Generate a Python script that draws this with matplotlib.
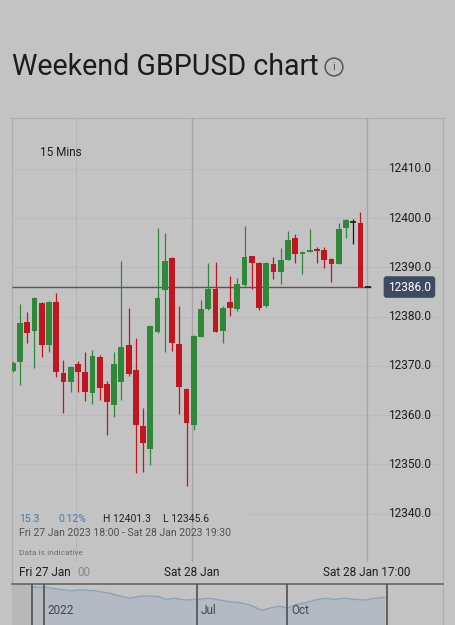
import matplotlib
matplotlib.use('Agg')
import matplotlib.pyplot as plt

# ---- candle data (15 min bars, GBPUSD x10000) ----
opens = [12369.0, 12370.7, 12379.0, 12377.0, 12382.7, 12374.2, 12383.0, 12368.6, 12366.8, 12370.4,
         12368.8, 12364.4, 12371.9, 12366.3, 12362.1, 12366.8, 12374.2, 12369.2, 12357.7, 12353.1,
         12376.9, 12385.3, 12391.8, 12374.4, 12365.3, 12358.0, 12375.9, 12381.5, 12385.7, 12377.1,
         12382.9, 12381.5, 12386.4, 12392.2, 12390.8, 12382.2, 12390.7, 12389.1, 12391.5, 12395.9,
         12392.8, 12393.2, 12393.8, 12393.5, 12391.7, 12390.7, 12397.9, 12399.2, 12399.0]
highs = [12371.0, 12382.6, 12380.9, 12384.0, 12383.0, 12383.2, 12384.8, 12371.2, 12370.0, 12371.0,
         12372.8, 12373.2, 12372.2, 12366.9, 12372.9, 12391.3, 12381.7, 12375.6, 12361.4, 12378.2,
         12397.9, 12397.0, 12392.0, 12382.2, 12365.5, 12376.2, 12383.4, 12390.9, 12391.1, 12382.2,
         12388.2, 12387.8, 12398.4, 12392.2, 12391.0, 12391.1, 12392.0, 12393.9, 12397.4, 12396.8,
         12393.4, 12397.7, 12394.2, 12394.2, 12391.8, 12398.9, 12399.8, 12399.9, 12401.3]
lows = [12368.8, 12366.1, 12374.7, 12369.6, 12371.7, 12372.9, 12367.8, 12360.4, 12364.7, 12364.7,
        12362.9, 12362.3, 12363.1, 12356.0, 12359.6, 12363.1, 12367.9, 12348.2, 12348.5, 12349.9,
        12376.7, 12372.9, 12373.1, 12360.2, 12345.6, 12357.0, 12375.8, 12381.4, 12376.8, 12374.6,
        12380.1, 12381.2, 12386.3, 12385.7, 12381.3, 12382.0, 12387.6, 12386.6, 12391.4, 12390.9,
        12388.6, 12393.1, 12390.9, 12389.8, 12387.1, 12390.6, 12395.9, 12394.8, 12386.0]
closes = [12370.6, 12378.6, 12376.6, 12383.8, 12374.2, 12383.0, 12368.8, 12366.8, 12369.8, 12368.8,
          12364.6, 12372.0, 12365.5, 12362.7, 12370.3, 12373.9, 12368.3, 12358.0, 12354.3, 12378.0,
          12383.8, 12391.3, 12374.7, 12365.8, 12358.4, 12376.1, 12381.5, 12385.7, 12376.9, 12381.7,
          12381.7, 12386.6, 12392.0, 12390.8, 12381.7, 12390.8, 12389.1, 12391.5, 12395.5, 12392.7,
          12393.2, 12393.6, 12393.3, 12391.5, 12390.6, 12397.8, 12399.5, 12399.2, 12386.0]

y_ticks = [12340, 12350, 12360, 12370, 12380, 12390, 12400, 12410]
last_price = 12386.0
x_grid = [8.75, 24.8, 48.95]

# ---- navigator (1 year overview) ----
nav_t = [0, 1.7, 3.9, 5.3, 6.7, 8.9, 11, 12.4, 13.9, 15.3, 16.7, 18.1, 18.9, 20.3, 21.7, 23.4,
         25.3, 26.7, 28.1, 29.6, 31, 32.7, 33.9, 35.3, 36.3, 37.4, 38.9, 40.3, 41.7, 43.1, 44.6,
         46, 47.4, 48.9, 50.3]
nav_rate = [1.352, 1.352, 1.325, 1.307, 1.316, 1.307, 1.272, 1.236, 1.206, 1.236, 1.236, 1.227,
            1.192, 1.206, 1.183, 1.192, 1.206, 1.183, 1.160, 1.147, 1.117, 1.045, 1.077, 1.103,
            1.073, 1.117, 1.147, 1.183, 1.206, 1.192, 1.206, 1.192, 1.183, 1.206, 1.219]
nav_labels = ['2022', 'Jul', 'Oct']
nav_label_t = [2.1, 23.9, 36.9]
nav_lines = [-0.14, 1.57, 23.4, 36.3, 50.6]

BG = '#c3c3c3'
GREEN = '#2e8838'
RED = '#bf161f'
W, H = 455, 625

plt.rcParams['font.family'] = ['Roboto', 'DejaVu Sans']

fig = plt.figure(figsize=(W / 100, H / 100), dpi=100)
fig.patch.set_facecolor(BG)


def fx(x):
    return x / W


def fy(y):
    return 1 - y / H


# title
fig.text(fx(12), fy(67), 'Weekend GBPUSD chart', fontsize=20.6, color='#1c1c1c',
         ha='left', va='center')
fig.text(fx(334), fy(67), 'i', fontsize=8, color='#555555', ha='center', va='center',
         bbox=dict(boxstyle='circle,pad=0.35', fc='none', ec='#555555', lw=1.1))

# outer frame
frame = fig.add_axes([fx(12), fy(625), fx(431), (625 - 118) / H])
frame.set_facecolor('none')
frame.set_xticks([])
frame.set_yticks([])
frame.spines['bottom'].set_visible(False)
for s in ['left', 'right', 'top']:
    frame.spines[s].set_color('#adadad')
    frame.spines[s].set_linewidth(0.9)

# main candle axes
ax = fig.add_axes([fx(12), fy(562), fx(431), (562 - 118) / H])
ax.set_facecolor('none')
ax.set_xlim(-0.1, 59.4)
ax.set_ylim(12330.2, 12420.3)
for s in ax.spines.values():
    s.set_visible(False)
ax.set_xticks([])
ax.set_yticks([])

for v in y_ticks:
    if v == y_ticks[0]:
        ax.axhline(v, xmin=0.55, color='#bababa', lw=0.8, zorder=0)
    else:
        ax.axhline(v, color='#bababa', lw=0.8, zorder=0)
    ax.text(0.972, v, f'{v:.1f}', transform=ax.get_yaxis_transform(), ha='right',
            va='center', fontsize=8.6, color='#1e1e1e')
ax.axvline(x_grid[0], color='#b6b6b6', lw=0.8, zorder=0)
ax.axvline(x_grid[1], color='#a4a4a4', lw=0.9, zorder=0)
ax.axvline(x_grid[2], color='#a4a4a4', lw=0.9, zorder=0)

# candles
for i in range(len(opens)):
    o, h, l, c = opens[i], highs[i], lows[i], closes[i]
    if c > o:
        col = GREEN
    elif c < o:
        col = RED
    else:
        col = '#1a1a1a'
    ax.vlines(i, l, h, color=col, lw=0.9, zorder=2)
    if c == o:
        ax.hlines(o, i - 0.4, i + 0.4, color=col, lw=1.2, zorder=3)
    else:
        ax.bar(i, abs(c - o), bottom=min(o, c), width=0.8, color=col, zorder=3)

# current price line + tag
ax.hlines(last_price, -0.1, 49.5, color='#555555', lw=1.0, zorder=1)
ax.hlines(last_price, 48.6, 49.4, color='#222222', lw=1.3, zorder=4)
ax.text(0.972, last_price, f'{last_price:.1f}', transform=ax.get_yaxis_transform(),
        ha='right', va='center', fontsize=8.6, color='white', zorder=5,
        bbox=dict(boxstyle='round,pad=0.36,rounding_size=0.25', fc='#3c4a62', ec='none'))

# labels inside chart
fig.text(fx(40), fy(153), '15 Mins', fontsize=8.5, color='#1e1e1e', va='center')
fig.text(fx(19), fy(519), '15.3', fontsize=7.5, color='#4a78ad', va='center')
fig.text(fx(58), fy(519), '0.12%', fontsize=7.5, color='#4a78ad', va='center')
fig.text(fx(103), fy(519), 'H 12401.3', fontsize=7.5, color='#222222', va='center')
fig.text(fx(163), fy(519), 'L 12345.6', fontsize=7.5, color='#222222', va='center')
fig.text(fx(19), fy(533), 'Fri 27 Jan 2023 18:00 - Sat 28 Jan 2023 19:30', fontsize=7.5,
         color='#505050', va='center')
fig.text(fx(19), fy(553), 'Data is indicative', fontsize=6, color='#707070', va='center')

# time axis labels
fig.text(fx(19), fy(573), 'Fri 27 Jan', fontsize=8.5, color='#1e1e1e', va='center')
fig.text(fx(77), fy(573), '00', fontsize=8.5, color='#8a8a8a', va='center')
fig.text(fx(192), fy(573), 'Sat 28 Jan', fontsize=8.5, color='#1e1e1e', va='center', ha='center')
fig.text(fx(367), fy(573), 'Sat 28 Jan 17:00', fontsize=8.5, color='#1e1e1e', va='center',
         ha='center')

# navigator
nav = fig.add_axes([fx(12), 0, fx(431), (625 - 584) / H])
nav.set_xlim(-3, 58.6)
nav.set_ylim(0.851, 1.396)
nav.set_facecolor('none')
nav.set_xticks([])
nav.set_yticks([])
for s in ['left', 'right', 'bottom']:
    nav.spines[s].set_visible(False)
nav.spines['top'].set_color('#5e5e5e')
nav.spines['top'].set_linewidth(1.1)
nav.axvspan(-3, nav_lines[0], color='#b8b8b8', lw=0, zorder=0)
nav.fill_between(nav_t, nav_rate, 0.851, color='#b3bac3', lw=0, zorder=1)
nav.plot(nav_t, nav_rate, color='#8da3ba', lw=1.0, zorder=2)
for t in nav_lines:
    nav.axvline(t, color='#4e4e4e', lw=1.2, zorder=3)
for lab, t in zip(nav_labels, nav_label_t):
    nav.text(t, 1.05, lab, fontsize=8.5, color='#444444', va='center', ha='left', zorder=4)

fig.savefig('out.png', dpi=100, facecolor=BG)
